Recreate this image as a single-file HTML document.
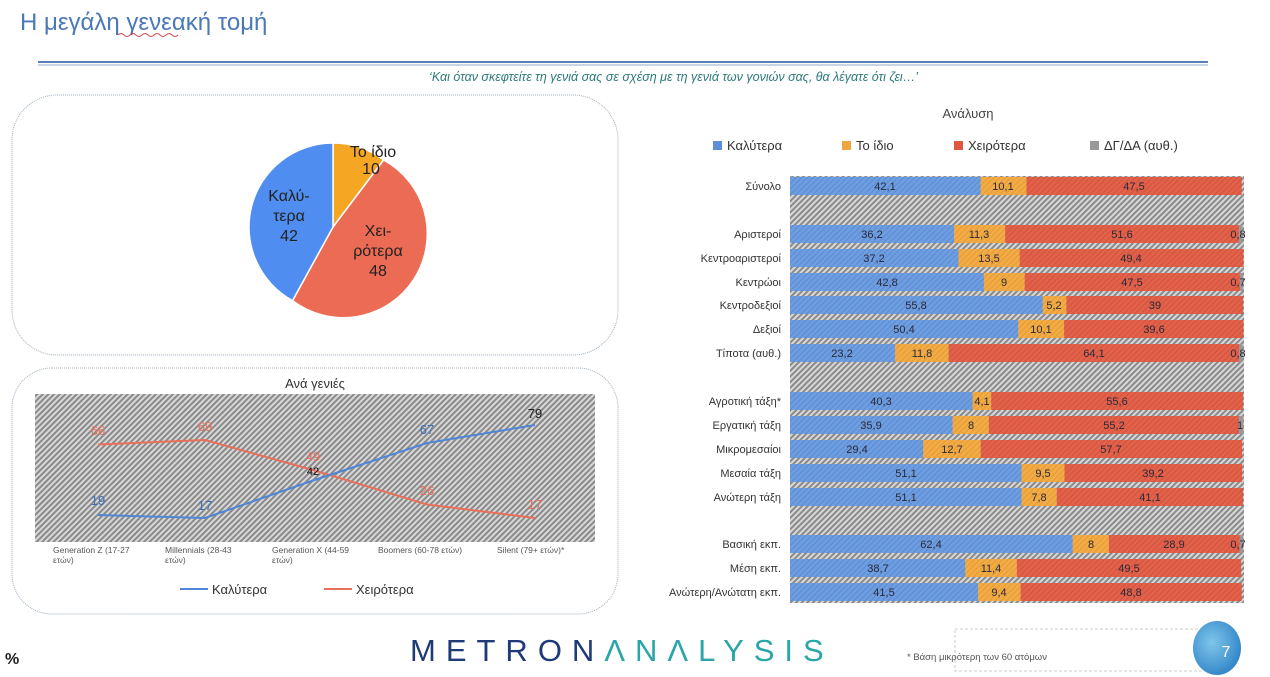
<!DOCTYPE html>
<html><head><meta charset="utf-8"><style>
html,body{margin:0;padding:0;background:#fff;}
svg{display:block;font-family:"Liberation Sans","DejaVu Sans",sans-serif;}
</style></head><body>
<svg width="1270" height="677" viewBox="0 0 1270 677" xmlns="http://www.w3.org/2000/svg">
<defs>
<pattern id="h" width="4" height="4" patternUnits="userSpaceOnUse" patternTransform="rotate(45)">
<rect width="4" height="4" fill="#d8d8d8"/><rect width="2" height="4" fill="#8a8a8a"/></pattern>
<pattern id="hb" width="4" height="4" patternUnits="userSpaceOnUse" patternTransform="rotate(45)">
<rect width="4" height="4" fill="#6e9de0"/><rect width="1" height="4" fill="#5b8bd2"/></pattern>
<pattern id="ho" width="4" height="4" patternUnits="userSpaceOnUse" patternTransform="rotate(45)">
<rect width="4" height="4" fill="#f2ab45"/><rect width="1" height="4" fill="#e39b35"/></pattern>
<pattern id="hr" width="4" height="4" patternUnits="userSpaceOnUse" patternTransform="rotate(45)">
<rect width="4" height="4" fill="#e2614a"/><rect width="1" height="4" fill="#d2523c"/></pattern>
<radialGradient id="bg" cx="0.4" cy="0.4" r="0.7"><stop offset="0" stop-color="#7fc6ec"/><stop offset="1" stop-color="#2a7fc4"/></radialGradient>
</defs>
<text x="20" y="30" font-size="24" fill="#4a78b8">Η μεγάλη γενεακή τομή</text>
<path d="M118 35 q3 -3 6 0 t6 0 t6 0 t6 0 t6 0 t6 0 t6 0 t6 0 t6 0 t6 0" stroke="#d24b4b" fill="none" stroke-width="1"/>
<line x1="38" y1="62" x2="1208" y2="62" stroke="#5d7fb5" stroke-width="2"/>
<line x1="38" y1="65" x2="1208" y2="65" stroke="#b9c8e0" stroke-width="1.5"/>
<text x="918" y="81" font-size="12.5" font-style="italic" fill="#2e7a7a" text-anchor="end">‘Και όταν σκεφτείτε τη γενιά σας σε σχέση με τη γενιά των γονιών σας, θα λέγατε ότι ζει…’</text>

<rect x="12" y="95" width="606" height="260" rx="45" fill="none" stroke="#a0b0c0" stroke-dasharray="1 1"/>
<rect x="12" y="368" width="606" height="246" rx="40" fill="none" stroke="#a0b0c0" stroke-dasharray="1 1"/>

<path d="M333 227 L333 143 A84 84 0 0 1 383.6 160.0 Z" fill="#f5a623" stroke="#fff" stroke-width="1.5"/>
<path d="M333 227 L383.6 160.0 A84 84 0 1 1 292.5 300.6 Z" fill="#ec6b55" stroke="#fff" stroke-width="1.5"/>
<path d="M333 227 L292.5 300.6 A84 84 0 0 1 333 143 Z" fill="#4f8ef0" stroke="#fff" stroke-width="1.5"/>
<g font-size="16" fill="#222" text-anchor="middle">
<text x="373" y="157">Το ίδιο</text><text x="371" y="174">10</text>
<text x="289" y="201">Καλύ-</text><text x="289" y="221">τερα</text><text x="289" y="241">42</text>
<text x="378" y="236">Χει-</text><text x="378" y="256">ρότερα</text><text x="378" y="276">48</text>
</g>

<text x="315" y="388" font-size="13" fill="#333" text-anchor="middle">Ανά γενιές</text>
<rect x="35" y="394" width="560" height="148" fill="url(#h)"/>
<polyline points="98,444.5 205,440 313,470 427,504.5 535,518" fill="none" stroke="#e8705a" stroke-width="2"/>
<polyline points="98,515 205,518 313,480.5 427,443 535,425" fill="none" stroke="#4f86d6" stroke-width="2"/>
<g font-size="13" text-anchor="middle">
<text x="98" y="435" fill="#e8705a">66</text><text x="205" y="431" fill="#e8705a">69</text>
<text x="313" y="461" fill="#e8705a">49</text><text x="427" y="495" fill="#e8705a">26</text><text x="535" y="509" fill="#e8705a">17</text>
<text x="98" y="505" fill="#3b6fb8">19</text><text x="205" y="510" fill="#3b6fb8">17</text>
<text x="313" y="475" fill="#111" font-size="11">42</text><text x="427" y="434" fill="#3b6fb8">67</text><text x="535" y="418" fill="#222">79</text>
</g>
<g font-size="8.5" fill="#555">
<text x="53" y="553">Generation Z (17-27</text><text x="53" y="563">ετών)</text>
<text x="165" y="553">Millennials (28-43</text><text x="165" y="563">ετών)</text>
<text x="272" y="553">Generation X (44-59</text><text x="272" y="563">ετών)</text>
<text x="378" y="553">Boomers (60-78 ετών)</text>
<text x="497" y="553">Silent (79+ ετών)*</text>
</g>
<line x1="180" y1="589" x2="208" y2="589" stroke="#4f86d6" stroke-width="2"/>
<text x="212" y="594" font-size="13" fill="#333">Καλύτερα</text>
<line x1="324" y1="589" x2="352" y2="589" stroke="#e8705a" stroke-width="2"/>
<text x="356" y="594" font-size="13" fill="#333">Χειρότερα</text>

<text x="968" y="118" font-size="13" fill="#444" text-anchor="middle">Ανάλυση</text>
<g font-size="13" fill="#333">
<rect x="713" y="141" width="9" height="9" fill="#5b8fd9"/><text x="727" y="150">Καλύτερα</text>
<rect x="842" y="141" width="9" height="9" fill="#f0a640"/><text x="856" y="150">Το ίδιο</text>
<rect x="954" y="141" width="9" height="9" fill="#e0573f"/><text x="968" y="150">Χειρότερα</text>
<rect x="1090" y="141" width="9" height="9" fill="#999"/><text x="1104" y="150">ΔΓ/ΔΑ (αυθ.)</text>
</g>
<rect x="790" y="176" width="454" height="427" fill="url(#h)"/>
<g font-size="11" fill="#333" text-anchor="end">
<text x="781" y="190">Σύνολο</text><text x="781" y="238">Αριστεροί</text><text x="781" y="262">Κεντροαριστεροί</text>
<text x="781" y="286">Κεντρώοι</text><text x="781" y="309">Κεντροδεξιοί</text><text x="781" y="333">Δεξιοί</text>
<text x="781" y="357">Τίποτα (αυθ.)</text><text x="781" y="405">Αγροτική τάξη*</text><text x="781" y="429">Εργατική τάξη</text>
<text x="781" y="453">Μικρομεσαίοι</text><text x="781" y="477">Μεσαία τάξη</text><text x="781" y="501">Ανώτερη τάξη</text>
<text x="781" y="548">Βασική εκπ.</text><text x="781" y="572">Μέση εκπ.</text><text x="781" y="596">Ανώτερη/Ανώτατη εκπ.</text>
</g>
<g>
<rect x="790" y="177" width="190.7" height="18" fill="url(#hb)"/><rect x="980.7" y="177" width="45.8" height="18" fill="url(#ho)"/><rect x="1026.5" y="177" width="215.2" height="18" fill="url(#hr)"/>
<rect x="790" y="225" width="164" height="18" fill="url(#hb)"/><rect x="954" y="225" width="51.2" height="18" fill="url(#ho)"/><rect x="1005.2" y="225" width="233.7" height="18" fill="url(#hr)"/><rect x="1238.9" y="225" width="3.6" height="18" fill="#999"/>
<rect x="790" y="249" width="168.5" height="18" fill="url(#hb)"/><rect x="958.5" y="249" width="61.2" height="18" fill="url(#ho)"/><rect x="1019.7" y="249" width="223.8" height="18" fill="url(#hr)"/>
<rect x="790" y="273" width="193.9" height="18" fill="url(#hb)"/><rect x="983.9" y="273" width="40.8" height="18" fill="url(#ho)"/><rect x="1024.7" y="273" width="215.2" height="18" fill="url(#hr)"/><rect x="1239.9" y="273" width="3.2" height="18" fill="#999"/>
<rect x="790" y="296" width="252.8" height="18" fill="url(#hb)"/><rect x="1042.8" y="296" width="23.6" height="18" fill="url(#ho)"/><rect x="1066.4" y="296" width="176.7" height="18" fill="url(#hr)"/>
<rect x="790" y="320" width="228.3" height="18" fill="url(#hb)"/><rect x="1018.3" y="320" width="45.8" height="18" fill="url(#ho)"/><rect x="1064.1" y="320" width="179.4" height="18" fill="url(#hr)"/>
<rect x="790" y="344" width="105.1" height="18" fill="url(#hb)"/><rect x="895.1" y="344" width="53.5" height="18" fill="url(#ho)"/><rect x="948.6" y="344" width="290.4" height="18" fill="url(#hr)"/><rect x="1239" y="344" width="3.6" height="18" fill="#999"/>
<rect x="790" y="392" width="182.6" height="18" fill="url(#hb)"/><rect x="972.6" y="392" width="18.6" height="18" fill="url(#ho)"/><rect x="991.2" y="392" width="251.9" height="18" fill="url(#hr)"/>
<rect x="790" y="416" width="162.6" height="18" fill="url(#hb)"/><rect x="952.6" y="416" width="36.2" height="18" fill="url(#ho)"/><rect x="988.8" y="416" width="250.1" height="18" fill="url(#hr)"/><rect x="1238.9" y="416" width="4.5" height="18" fill="#999"/>
<rect x="790" y="440" width="133.2" height="18" fill="url(#hb)"/><rect x="923.2" y="440" width="57.5" height="18" fill="url(#ho)"/><rect x="980.7" y="440" width="261.4" height="18" fill="url(#hr)"/>
<rect x="790" y="464" width="231.5" height="18" fill="url(#hb)"/><rect x="1021.5" y="464" width="43" height="18" fill="url(#ho)"/><rect x="1064.5" y="464" width="177.6" height="18" fill="url(#hr)"/>
<rect x="790" y="488" width="231.5" height="18" fill="url(#hb)"/><rect x="1021.5" y="488" width="35.3" height="18" fill="url(#ho)"/><rect x="1056.8" y="488" width="186.2" height="18" fill="url(#hr)"/>
<rect x="790" y="535" width="282.7" height="18" fill="url(#hb)"/><rect x="1072.7" y="535" width="36.2" height="18" fill="url(#ho)"/><rect x="1108.9" y="535" width="130.9" height="18" fill="url(#hr)"/><rect x="1239.8" y="535" width="3.2" height="18" fill="#999"/>
<rect x="790" y="559" width="175.3" height="18" fill="url(#hb)"/><rect x="965.3" y="559" width="51.6" height="18" fill="url(#ho)"/><rect x="1016.9" y="559" width="224.2" height="18" fill="url(#hr)"/>
<rect x="790" y="583" width="188" height="18" fill="url(#hb)"/><rect x="978" y="583" width="42.6" height="18" fill="url(#ho)"/><rect x="1020.6" y="583" width="221.1" height="18" fill="url(#hr)"/>
</g>
<g font-size="11" fill="#2a2a3a" text-anchor="middle">
<text x="885" y="190">42,1</text><text x="1003" y="190">10,1</text><text x="1134" y="190">47,5</text>
<text x="872" y="238">36,2</text><text x="979" y="238">11,3</text><text x="1122" y="238">51,6</text><text x="1238" y="238">0,8</text>
<text x="874" y="262">37,2</text><text x="989" y="262">13,5</text><text x="1131" y="262">49,4</text>
<text x="887" y="286">42,8</text><text x="1004" y="286">9</text><text x="1132" y="286">47,5</text><text x="1238" y="286">0,7</text>
<text x="916" y="309">55,8</text><text x="1054" y="309">5,2</text><text x="1155" y="309">39</text>
<text x="904" y="333">50,4</text><text x="1041" y="333">10,1</text><text x="1154" y="333">39,6</text>
<text x="842" y="357">23,2</text><text x="922" y="357">11,8</text><text x="1094" y="357">64,1</text><text x="1238" y="357">0,8</text>
<text x="881" y="405">40,3</text><text x="982" y="405">4,1</text><text x="1117" y="405">55,6</text>
<text x="871" y="429">35,9</text><text x="971" y="429">8</text><text x="1114" y="429">55,2</text><text x="1240" y="429">1</text>
<text x="857" y="453">29,4</text><text x="952" y="453">12,7</text><text x="1111" y="453">57,7</text>
<text x="906" y="477">51,1</text><text x="1043" y="477">9,5</text><text x="1153" y="477">39,2</text>
<text x="906" y="501">51,1</text><text x="1039" y="501">7,8</text><text x="1150" y="501">41,1</text>
<text x="931" y="548">62,4</text><text x="1091" y="548">8</text><text x="1174" y="548">28,9</text><text x="1238" y="548">0,7</text>
<text x="878" y="572">38,7</text><text x="991" y="572">11,4</text><text x="1129" y="572">49,5</text>
<text x="884" y="596">41,5</text><text x="999" y="596">9,4</text><text x="1131" y="596">48,8</text>
</g>

<text x="5" y="664" font-size="16" fill="#222" font-weight="bold">%</text>
<text x="410" y="661" font-size="31" fill="#1e3a78" letter-spacing="10">METRON<tspan fill="#2aa5a8">ΛNΛLYSIS</tspan></text>
<rect x="955" y="629" width="250" height="42" fill="none" stroke="#ccc" stroke-dasharray="3 2"/>
<text x="907" y="660" font-size="9.5" fill="#555">* Βάση μικρότερη των 60 ατόμων</text>
<ellipse cx="1217" cy="648" rx="24" ry="27" fill="url(#bg)"/>
<text x="1226" y="657" font-size="16" fill="#fff" text-anchor="middle">7</text>
</svg>
</body></html>
